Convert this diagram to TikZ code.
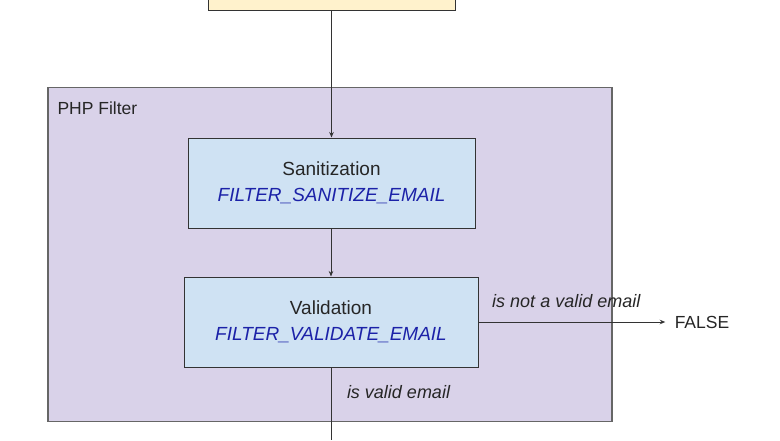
\documentclass[tikz,border=0pt]{standalone}
\usepackage{fontspec}
\setmainfont{Liberation Sans}
\usetikzlibrary{arrows.meta}
\definecolor{inputfill}{HTML}{FFF2CC}
\definecolor{filterfill}{HTML}{D9D2E9}
\definecolor{stepfill}{HTML}{CFE2F3}
\definecolor{linegray}{HTML}{333333}
\definecolor{constblue}{HTML}{1C22A8}
\begin{document}
\begin{tikzpicture}[x = 1pt, y = -1pt, line width = 1pt,
    stepbox/.style = {draw = linegray, fill = stepfill, minimum height = 90pt, align = center,
      text = black!85, font = \fontsize{19}{26.5}\selectfont},
    lbl/.style = {text = black!85, font = \fontsize{18}{20}\selectfont\itshape, inner sep = 0pt},
    arr/.style = {draw = linegray, -{Stealth[length = 5.5pt, width = 4.5pt]}}]
  \useasboundingbox (0,0) rectangle (780,440);
  \node[draw = black!60, line width = 1.3pt, fill = filterfill, minimum width = 564pt, minimum height = 334pt] (filter) at (330,254.5) {};
  \node[anchor = base west, inner sep = 0pt, text = black!85, font = \fontsize{17.5}{20}\selectfont] (filtername) at (57,114) {PHP Filter};
  \node[draw = linegray, fill = inputfill, minimum width = 247pt, minimum height = 50pt] (input) at (331.5,-15) {};
  \node[stepbox, minimum width = 287pt] (sanitize) at (331.5,183) {Sanitization\\{\itshape\color{constblue}FILTER\_SANITIZE\_EMAIL}};
  \node[stepbox, minimum width = 294pt] (validate) at (331,322) {Validation\\{\itshape\color{constblue}FILTER\_VALIDATE\_EMAIL}};
  \node[text = black!85, font = \fontsize{17.5}{20}\selectfont, inner sep = 9pt] (false) at (702,322) {FALSE};
  \coordinate (valid) at (331.5,440);
  \draw[arr] (input.south -| sanitize.north) -- (sanitize.north);
  \draw[arr] (sanitize.south -| validate.north) -- (validate.north);
  \draw[arr] (validate.east) -- node[lbl, pos = 0.47, anchor = base, yshift = 15pt] {is not a valid email} (false.west);
  \draw[draw = linegray] (validate.south -| valid) -- node[lbl, pos = 0.425, anchor = base west, xshift = 15pt] {is valid email} (valid);
\end{tikzpicture}
\end{document}
